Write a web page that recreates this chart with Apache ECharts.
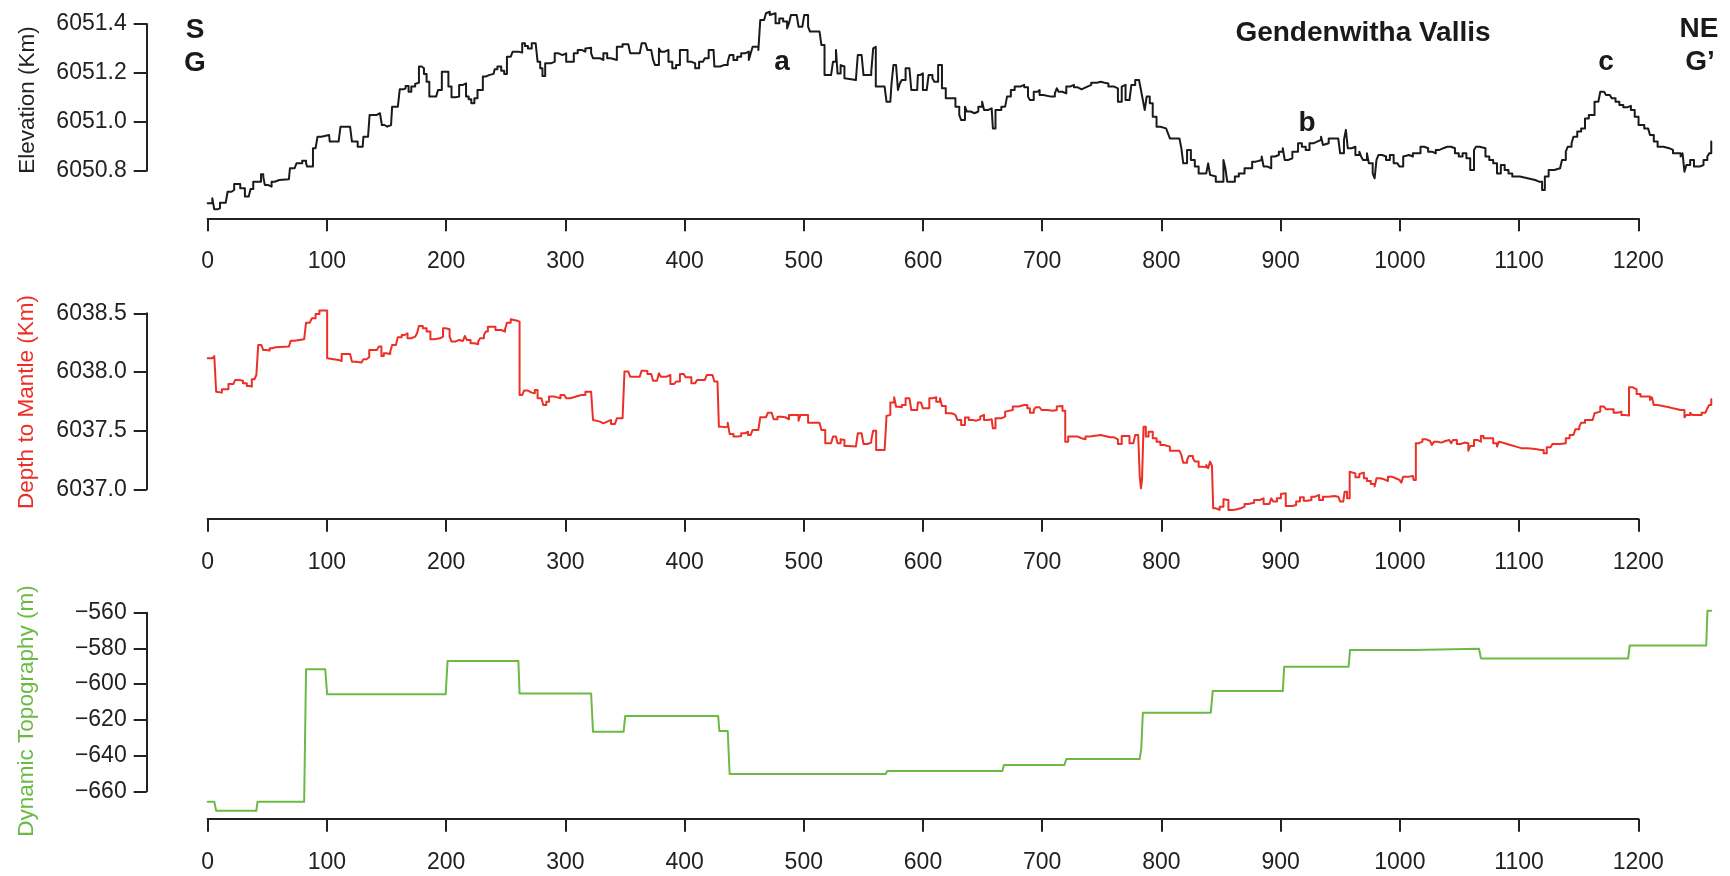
<!DOCTYPE html>
<html>
<head>
<meta charset="utf-8">
<title>Gendenwitha Vallis profile</title>
<script src="https://cdn.jsdelivr.net/npm/echarts@6/dist/echarts.min.js"></script>
<style>
  html, body { margin: 0; padding: 0; background: #ffffff; }
  #chart { width: 1730px; height: 876px; }
</style>
</head>
<body>
<div id="chart"></div>
<script>
// Profile G–G' across Gendenwitha Vallis: distance along profile (km) vs. value

const distanceTicks = [0, 100, 200, 300, 400, 500, 600, 700, 800, 900, 1000, 1100, 1200];
const profileEnd = 1270; // data runs a little past the last labelled tick

// Surface elevation (km)
const elevation = [
  [0,6050.667],[3.9,6050.687],[5.5,6050.642],[8.1,6050.646],[10.3,6050.669],[15.1,6050.674],[16.7,6050.714],
  [20.0,6050.721],[22.2,6050.746],[25.4,6050.746],[27.3,6050.728],[31.2,6050.694],[34.4,6050.687],[36.0,6050.725],
  [38.2,6050.755],[42.4,6050.755],[44.7,6050.785],[46.6,6050.776],[47.9,6050.742],[50.4,6050.735],[53.6,6050.755],
  [56.2,6050.762],[60.1,6050.765],[68.1,6050.765],[69.0,6050.810],[72.9,6050.817],[74.5,6050.830],[79.3,6050.841],
  [82.5,6050.830],[83.5,6050.817],[86.4,6050.817],[88.3,6050.892],[90.5,6050.898],[92.1,6050.939],[95.4,6050.946],
  [101.8,6050.946],[102.4,6050.919],[109.8,6050.919],[111.4,6050.980],[119.4,6050.983],[121.0,6050.919],
  [125.8,6050.898],[130.0,6050.901],[130.6,6050.939],[134.5,6050.946],[135.8,6051.028],[141.9,6051.035],
  [144.5,6051.042],[146.1,6050.987],[148.3,6050.980],[150.6,6050.987],[153.8,6050.987],[154.7,6051.062],
  [159.5,6051.065],[161.1,6051.133],[164.3,6051.137],[166.0,6051.146],[168.5,6051.123],[170.8,6051.144],
  [174.0,6051.155],[175.6,6051.160],[177.2,6051.226],[179.4,6051.219],[181.4,6051.196],[183.6,6051.164],
  [185.9,6051.103],[191.6,6051.103],[193.2,6051.130],[196.4,6051.205],[199.6,6051.205],[201.9,6051.144],
  [204.5,6051.100],[207.7,6051.103],[210.9,6051.151],[214.1,6051.157],[216.7,6051.103],[218.9,6051.092],
  [221.1,6051.076],[223.7,6051.096],[226.3,6051.130],[228.5,6051.130],[230.8,6051.185],[233.3,6051.191],
  [235.9,6051.196],[239.8,6051.196],[240.7,6051.215],[243.0,6051.226],[246.2,6051.209],[248.7,6051.196],
  [251.0,6051.266],[254.2,6051.273],[255.8,6051.287],[260.6,6051.283],[263.8,6051.321],[266.1,6051.310],
  [268.6,6051.300],[271.8,6051.321],[275.1,6051.314],[276.7,6051.246],[278.9,6051.219],[280.8,6051.187],
  [283.1,6051.239],[287.9,6051.246],[291.1,6051.280],[294.3,6051.273],[297.5,6051.280],[300.7,6051.246],
  [303.9,6051.246],[307.1,6051.280],[310.4,6051.294],[313.6,6051.287],[316.8,6051.300],[318.4,6051.303],
  [321.6,6051.280],[323.2,6051.260],[329.0,6051.253],[331.9,6051.280],[335.1,6051.260],[338.3,6051.253],
  [343.2,6051.307],[348.0,6051.317],[352.8,6051.314],[354.4,6051.280],[362.4,6051.280],[364.0,6051.321],
  [367.2,6051.321],[368.8,6051.294],[372.0,6051.287],[373.6,6051.253],[375.2,6051.232],[378.5,6051.300],
  [380.1,6051.287],[383.3,6051.294],[386.5,6051.246],[389.7,6051.219],[392.9,6051.232],[396.1,6051.294],
  [399.3,6051.294],[402.5,6051.246],[405.7,6051.239],[408.9,6051.219],[412.2,6051.246],[415.4,6051.246],
  [417.0,6051.260],[420.2,6051.294],[424.3,6051.294],[425.0,6051.226],[429.8,6051.232],[433.0,6051.232],
  [436.2,6051.246],[437.8,6051.273],[441.0,6051.253],[444.2,6051.266],[447.5,6051.280],[450.7,6051.287],
  [453.9,6051.253],[455.5,6051.280],[457.1,6051.307],[461.9,6051.294],[463.5,6051.416],[466.7,6051.410],
  [468.3,6051.444],[469.9,6051.450],[471.5,6051.437],[473.1,6051.444],[476.3,6051.403],[479.5,6051.423],
  [482.7,6051.410],[486.0,6051.382],[487.6,6051.403],[489.2,6051.437],[494.0,6051.437],[495.6,6051.389],
  [498.8,6051.389],[500.4,6051.437],[502.0,6051.437],[503.6,6051.389],[505.2,6051.369],[513.2,6051.369],
  [514.8,6051.314],[517.4,6051.191],[522.9,6051.198],[524.5,6051.246],[527.0,6051.294],[528.3,6051.198],
  [530.9,6051.232],[532.5,6051.226],[534.1,6051.178],[535.7,6051.171],[543.7,6051.171],[545.3,6051.273],
  [548.5,6051.273],[550.1,6051.191],[553.3,6051.191],[556.6,6051.205],[558.2,6051.300],[559.8,6051.307],
  [560.4,6051.144],[567.8,6051.144],[569.4,6051.082],[572.6,6051.076],[573.6,6051.157],[575.2,6051.232],
  [577.4,6051.232],[579.0,6051.130],[580.6,6051.157],[582.2,6051.171],[585.4,6051.219],[588.6,6051.219],
  [590.2,6051.130],[595.1,6051.130],[595.7,6051.191],[597.6,6051.198],[599.9,6051.130],[603.1,6051.137],
  [604.7,6051.191],[607.9,6051.178],[609.5,6051.164],[612.7,6051.232],[614.3,6051.232],[615.9,6051.137],
  [617.5,6051.137],[619.1,6051.096],[622.3,6051.096],[627.2,6051.062],[630.4,6051.028],[632.0,6051.007],
  [635.2,6051.062],[636.8,6051.042],[640.0,6051.035],[643.2,6051.042],[646.4,6051.062],[649.6,6051.082],
  [651.2,6051.048],[654.4,6051.055],[657.6,6051.048],[658.6,6050.973],[660.8,6051.048],[665.7,6051.062],
  [668.9,6051.069],[670.5,6051.103],[673.7,6051.130],[676.9,6051.144],[681.7,6051.151],[684.9,6051.141],
  [688.1,6051.103],[689.7,6051.089],[692.9,6051.123],[696.1,6051.130],[697.8,6051.110],[701.0,6051.103],
  [707.4,6051.103],[710.6,6051.116],[712.2,6051.137],[713.8,6051.123],[717.0,6051.116],[720.2,6051.144],
  [723.4,6051.151],[726.6,6051.141],[729.8,6051.133],[733.0,6051.137],[734.7,6051.144],[737.9,6051.151],
  [741.1,6051.160],[745.9,6051.164],[749.1,6051.160],[752.3,6051.157],[755.5,6051.144],[760.3,6051.137],
  [763.5,6051.082],[766.7,6051.144],[768.3,6051.151],[769.9,6051.089],[773.2,6051.089],[774.8,6051.151],
  [778.0,6051.171],[781.2,6051.174],[782.8,6051.130],[784.4,6051.089],[786.0,6051.048],[787.6,6051.103],
  [790.2,6051.076],[792.7,6051.021],[795.9,6050.980],[799.1,6050.973],[803.9,6050.980],[805.5,6050.953],
  [807.1,6050.932],[815.1,6050.932],[816.7,6050.892],[818.3,6050.830],[821.5,6050.885],[824.7,6050.844],
  [828.0,6050.817],[831.2,6050.789],[834.4,6050.789],[837.6,6050.783],[839.2,6050.830],[840.8,6050.783],
  [842.4,6050.776],[845.6,6050.755],[848.8,6050.755],[852.0,6050.844],[853.6,6050.810],[855.2,6050.755],
  [858.4,6050.755],[861.6,6050.776],[864.9,6050.789],[869.7,6050.810],[876.1,6050.837],[879.3,6050.844],
  [884.1,6050.858],[885.7,6050.817],[888.9,6050.810],[892.1,6050.858],[895.3,6050.864],[898.5,6050.878],
  [901.8,6050.892],[903.4,6050.844],[906.6,6050.851],[909.8,6050.878],[914.6,6050.912],[917.8,6050.898],
  [921.0,6050.885],[924.2,6050.912],[927.4,6050.919],[930.6,6050.926],[933.9,6050.939],[935.5,6050.905],
  [937.1,6050.912],[940.3,6050.932],[948.3,6050.932],[949.9,6050.871],[953.1,6050.926],[954.7,6050.967],
  [956.3,6050.892],[959.5,6050.898],[962.7,6050.864],[966.0,6050.878],[967.5,6050.858],[969.1,6050.844],
  [972.4,6050.871],[974.0,6050.830],[977.2,6050.789],[978.8,6050.769],[980.4,6050.844],[982.0,6050.864],
  [985.2,6050.858],[988.4,6050.844],[991.6,6050.864],[994.8,6050.830],[998.0,6050.837],[999.6,6050.817],
  [1002.8,6050.858],[1004.4,6050.864],[1007.7,6050.858],[1010.9,6050.871],[1014.1,6050.871],[1017.3,6050.898],
  [1020.5,6050.892],[1023.7,6050.878],[1026.9,6050.871],[1030.1,6050.885],[1033.3,6050.892],[1036.5,6050.898],
  [1039.7,6050.898],[1042.9,6050.892],[1046.2,6050.871],[1049.4,6050.858],[1052.6,6050.871],[1055.8,6050.851],
  [1059.0,6050.803],[1062.2,6050.885],[1063.8,6050.898],[1067.0,6050.892],[1071.8,6050.858],[1075.0,6050.844],
  [1078.3,6050.830],[1081.5,6050.789],[1084.7,6050.823],[1087.9,6050.803],[1091.1,6050.789],[1094.3,6050.776],
  [1100.7,6050.769],[1107.1,6050.762],[1113.5,6050.755],[1116.8,6050.755],[1119.3,6050.721],[1121.6,6050.776],
  [1124.8,6050.803],[1129.6,6050.810],[1134.4,6050.810],[1136.0,6050.844],[1139.2,6050.878],[1140.8,6050.898],
  [1144.0,6050.912],[1145.6,6050.939],[1148.8,6050.960],[1152.1,6050.973],[1155.3,6051.014],[1158.5,6051.028],
  [1163.3,6051.082],[1166.5,6051.089],[1168.1,6051.123],[1171.3,6051.127],[1172.9,6051.110],[1176.1,6051.110],
  [1177.7,6051.096],[1180.9,6051.082],[1184.1,6051.069],[1187.4,6051.059],[1190.6,6051.065],[1193.8,6051.048],
  [1197.0,6051.021],[1200.2,6050.987],[1205.0,6050.973],[1208.2,6050.973],[1209.8,6050.946],[1213.0,6050.919],
  [1216.2,6050.898],[1221.0,6050.892],[1225.9,6050.885],[1229.1,6050.871],[1235.5,6050.858],[1237.1,6050.871],
  [1238.7,6050.796],[1240.3,6050.823],[1243.5,6050.844],[1246.7,6050.817],[1251.5,6050.823],[1254.7,6050.844],
  [1257.9,6050.858],[1259.5,6050.871],[1261.2,6050.919]
];

// Depth to mantle (km)
const mantleDepth = [
  [0,6038.116],[3.9,6038.125],[5.5,6038.136],[7.1,6037.832],[8.7,6037.824],[11.9,6037.852],[15.1,6037.852],
  [17.4,6037.898],[21.6,6037.903],[23.1,6037.932],[26.4,6037.926],[29.6,6037.903],[32.8,6037.881],[35.0,6037.875],
  [37.0,6037.937],[39.2,6037.937],[40.8,6037.974],[42.4,6038.230],[45.0,6038.216],[46.6,6038.187],[48.8,6038.182],
  [52.0,6038.202],[54.3,6038.210],[56.9,6038.216],[68.1,6038.216],[69.7,6038.267],[72.9,6038.264],[74.5,6038.278],
  [80.9,6038.287],[82.5,6038.420],[85.7,6038.420],[87.3,6038.457],[90.5,6038.494],[93.7,6038.523],[97.9,6038.523],
  [100.2,6038.116],[101.8,6038.102],[109.8,6038.094],[112.4,6038.153],[119.4,6038.153],[121.0,6038.088],
  [124.2,6038.080],[129.0,6038.074],[130.6,6038.108],[133.2,6038.125],[135.5,6038.187],[141.9,6038.202],
  [143.5,6038.216],[145.7,6038.136],[147.7,6038.159],[149.9,6038.153],[153.1,6038.173],[154.7,6038.230],
  [157.9,6038.230],[159.5,6038.295],[162.7,6038.315],[165.3,6038.330],[167.6,6038.287],[170.8,6038.301],
  [174.0,6038.315],[175.6,6038.330],[177.2,6038.392],[180.4,6038.372],[183.6,6038.344],[186.8,6038.278],
  [190.0,6038.267],[191.6,6038.287],[194.8,6038.301],[197.4,6038.372],[199.6,6038.364],[202.9,6038.301],
  [204.5,6038.259],[207.7,6038.273],[210.9,6038.264],[214.1,6038.273],[215.7,6038.307],[217.3,6038.273],
  [220.5,6038.244],[223.7,6038.236],[226.9,6038.259],[228.5,6038.287],[231.7,6038.315],[233.3,6038.344],
  [235.0,6038.386],[238.2,6038.386],[241.4,6038.358],[246.2,6038.344],[249.4,6038.364],[251.0,6038.420],
  [254.2,6038.449],[255.8,6038.437],[259.6,6038.429],[261.6,6037.804],[263.8,6037.810],[265.4,6037.841],
  [268.6,6037.824],[271.8,6037.818],[274.4,6037.847],[276.7,6037.776],[279.9,6037.767],[281.5,6037.719],
  [284.0,6037.747],[286.3,6037.790],[291.1,6037.776],[295.9,6037.804],[299.1,6037.804],[300.7,6037.776],
  [303.9,6037.784],[307.1,6037.795],[310.4,6037.804],[313.6,6037.804],[316.8,6037.832],[321.6,6037.832],
  [323.2,6037.591],[324.8,6037.577],[329.0,6037.562],[331.9,6037.577],[335.1,6037.577],[336.7,6037.591],
  [338.3,6037.557],[341.6,6037.548],[343.2,6037.605],[348.0,6037.605],[349.6,6038.003],[352.8,6038.000],
  [354.4,6037.960],[362.4,6037.960],[364.0,6038.011],[366.6,6038.009],[368.8,6037.983],[372.0,6037.974],
  [373.6,6037.926],[376.9,6037.918],[378.5,6037.989],[380.1,6037.960],[384.9,6037.974],[388.1,6037.898],
  [391.3,6037.903],[392.9,6037.918],[396.1,6037.983],[399.3,6037.974],[400.9,6037.955],[402.5,6037.955],
  [405.7,6037.903],[408.9,6037.903],[410.5,6037.932],[413.8,6037.932],[417.0,6037.937],[418.6,6037.974],
  [423.4,6037.983],[425.0,6037.918],[427.6,6037.918],[428.8,6037.534],[431.4,6037.528],[434.0,6037.534],
  [436.2,6037.568],[437.8,6037.472],[441.0,6037.449],[444.2,6037.455],[447.5,6037.477],[450.7,6037.491],
  [453.2,6037.463],[455.5,6037.472],[457.1,6037.506],[461.9,6037.500],[463.5,6037.614],[468.3,6037.614],
  [469.9,6037.653],[473.1,6037.648],[474.7,6037.597],[477.9,6037.619],[481.1,6037.614],[484.4,6037.597],
  [487.6,6037.634],[492.4,6037.634],[495.6,6037.585],[497.2,6037.634],[500.4,6037.634],[503.6,6037.568],
  [513.2,6037.568],[514.8,6037.506],[518.0,6037.392],[522.9,6037.398],[524.5,6037.449],[527.0,6037.463],
  [528.3,6037.392],[530.9,6037.426],[532.5,6037.420],[534.1,6037.369],[537.3,6037.364],[543.7,6037.364],
  [545.3,6037.477],[548.5,6037.477],[550.1,6037.386],[553.3,6037.398],[556.6,6037.420],[558.2,6037.500],
  [559.8,6037.500],[560.7,6037.335],[567.8,6037.335],[569.4,6037.625],[571.0,6037.634],[572.6,6037.739],
  [575.8,6037.784],[577.4,6037.704],[579.7,6037.699],[582.2,6037.719],[585.4,6037.776],[588.6,6037.770],
  [590.2,6037.676],[595.1,6037.676],[595.7,6037.739],[598.3,6037.747],[599.9,6037.690],[603.1,6037.690],
  [605.3,6037.776],[607.9,6037.784],[611.1,6037.747],[614.3,6037.776],[615.9,6037.710],[619.1,6037.648],
  [624.0,6037.634],[627.2,6037.619],[628.8,6037.591],[632.0,6037.548],[635.2,6037.611],[638.4,6037.591],
  [641.6,6037.585],[644.8,6037.597],[648.0,6037.619],[649.6,6037.634],[651.2,6037.591],[654.4,6037.597],
  [657.6,6037.591],[658.6,6037.520],[660.8,6037.605],[665.7,6037.619],[668.9,6037.662],[670.5,6037.676],
  [675.3,6037.705],[680.1,6037.719],[684.9,6037.719],[687.5,6037.690],[689.7,6037.653],[692.9,6037.676],
  [694.5,6037.699],[697.8,6037.699],[699.4,6037.676],[704.2,6037.670],[709.0,6037.676],[712.2,6037.705],
  [713.8,6037.710],[717.0,6037.670],[719.3,6037.406],[721.8,6037.449],[725.0,6037.449],[729.8,6037.435],
  [733.0,6037.426],[736.3,6037.449],[739.5,6037.455],[742.7,6037.463],[749.1,6037.455],[752.3,6037.443],
  [757.1,6037.443],[760.3,6037.426],[763.5,6037.386],[766.7,6037.455],[769.9,6037.455],[773.2,6037.392],
  [776.4,6037.392],[778.0,6037.463],[780.5,6037.477],[781.8,6037.108],[782.8,6037.008],[783.7,6037.080],
  [785.0,6037.534],[786.9,6037.449],[789.2,6037.491],[792.7,6037.435],[795.9,6037.406],[799.1,6037.378],
  [802.3,6037.386],[803.9,6037.364],[807.1,6037.329],[815.1,6037.329],[816.7,6037.293],[818.3,6037.227],
  [821.5,6037.250],[823.1,6037.284],[826.4,6037.264],[828.0,6037.236],[831.2,6037.193],[834.4,6037.199],
  [836.0,6037.187],[837.6,6037.207],[839.2,6037.179],[840.8,6037.236],[842.4,6037.199],[843.4,6036.838],
  [845.6,6036.824],[848.8,6036.852],[852.0,6036.915],[853.6,6036.909],[856.2,6036.824],[860.0,6036.830],
  [863.3,6036.838],[866.5,6036.852],[869.7,6036.875],[872.9,6036.886],[877.7,6036.909],[882.5,6036.909],
  [884.1,6036.923],[885.7,6036.875],[890.5,6036.875],[892.1,6036.923],[893.7,6036.895],[896.9,6036.923],
  [900.2,6036.960],[901.8,6036.966],[904.3,6036.858],[909.8,6036.866],[913.0,6036.895],[916.2,6036.932],
  [919.4,6036.903],[922.6,6036.909],[925.8,6036.937],[929.0,6036.946],[930.6,6036.952],[932.3,6036.909],
  [935.5,6036.937],[940.3,6036.943],[945.1,6036.937],[948.3,6036.923],[949.9,6036.895],[952.5,6036.895],
  [953.7,6036.980],[955.7,6036.923],[957.9,6037.150],[959.5,6037.136],[962.7,6037.102],[966.0,6037.131],
  [967.5,6037.142],[969.8,6037.094],[972.4,6037.071],[975.6,6037.045],[978.8,6037.023],[980.4,6037.094],
  [983.6,6037.085],[986.8,6037.071],[990.0,6037.108],[993.2,6037.094],[996.4,6037.080],[999.6,6037.080],
  [1001.2,6037.057],[1002.8,6037.108],[1007.7,6037.114],[1010.9,6037.108],[1011.5,6037.080],[1013.4,6037.392],
  [1015.7,6037.406],[1018.9,6037.426],[1022.1,6037.412],[1025.3,6037.406],[1026.9,6037.378],[1028.5,6037.406],
  [1031.7,6037.398],[1034.9,6037.412],[1038.1,6037.420],[1041.4,6037.426],[1043.0,6037.392],[1044.6,6037.420],
  [1047.8,6037.386],[1051.0,6037.398],[1054.2,6037.406],[1055.8,6037.392],[1057.4,6037.329],[1059.0,6037.369],
  [1062.2,6037.420],[1065.4,6037.406],[1068.0,6037.455],[1070.2,6037.435],[1075.0,6037.435],[1078.3,6037.392],
  [1081.5,6037.364],[1083.1,6037.406],[1084.7,6037.392],[1087.9,6037.378],[1092.7,6037.364],[1097.5,6037.349],
  [1102.3,6037.349],[1107.1,6037.344],[1113.5,6037.335],[1118.4,6037.335],[1120.6,6037.307],[1123.2,6037.358],
  [1126.4,6037.364],[1128.0,6037.386],[1134.4,6037.386],[1136.0,6037.392],[1139.2,6037.435],[1142.4,6037.463],
  [1145.6,6037.472],[1147.2,6037.511],[1150.5,6037.534],[1152.1,6037.568],[1155.3,6037.591],[1161.7,6037.591],
  [1163.3,6037.648],[1164.9,6037.662],[1168.1,6037.705],[1171.3,6037.705],[1172.9,6037.682],[1176.1,6037.682],
  [1179.3,6037.653],[1182.5,6037.662],[1185.8,6037.634],[1189.0,6037.642],[1190.6,6037.628],[1192.2,6037.869],
  [1195.4,6037.852],[1198.6,6037.812],[1201.8,6037.790],[1206.6,6037.790],[1209.8,6037.761],[1211.4,6037.784],
  [1213.0,6037.719],[1216.2,6037.705],[1222.6,6037.699],[1225.9,6037.690],[1229.1,6037.676],[1235.5,6037.670],
  [1237.1,6037.676],[1238.7,6037.614],[1240.3,6037.634],[1243.5,6037.653],[1245.1,6037.634],[1249.9,6037.634],
  [1253.1,6037.653],[1256.3,6037.662],[1257.9,6037.690],[1259.5,6037.719],[1261.2,6037.767]
];

// Dynamic topography (m)
const dynamicTopography = [
  [0,-665.8],[5.5,-665.8],[7.1,-670.9],[40.8,-670.9],[41.8,-665.8],[80.9,-665.8],[82.5,-591.7],[98.6,-591.7],
  [100.2,-605.7],[199.6,-605.7],[201.2,-587.1],[260.6,-587.1],[261.6,-605.2],[321.6,-605.2],[323.2,-626.6],
  [348.9,-626.6],[350.2,-617.9],[428.2,-617.9],[429.2,-626.3],[436.2,-626.3],[437.8,-650.3],[568.7,-650.3],
  [570.0,-648.6],[666.6,-648.6],[667.9,-645.3],[718.6,-645.3],[720.2,-641.9],[781.8,-641.9],[783.1,-636.0],
  [784.4,-616.0],[841.4,-616.0],[843.0,-603.9],[901.8,-603.9],[903.0,-590.2],[957.0,-590.2],[958.2,-580.9],
  [1011.8,-580.9],[1012.8,-580.2],[1066.4,-580.2],[1068.0,-585.6],[1191.5,-585.6],[1192.8,-578.3],
  [1257.0,-578.3],[1258.0,-558.9],[1261.2,-558.9]
];

const elevationTicks = [6050.8, 6051.0, 6051.2, 6051.4];
const mantleTicks = [6037.0, 6037.5, 6038.0, 6038.5];
const dynamicTicks = [-660, -640, -620, -600, -580, -560];

const INK = '#222222';
const LINE_BLACK = '#1a1a1a';
const RED = '#ec2f27';
const GREEN = '#6cba45';
const FONT = '"Liberation Sans", Arial, Helvetica, sans-serif';

// Panel frames: the axes span only the labelled ticks (0–1200 km and the y tick range)
const AX_LEFT = 207.7, AX_RIGHT = 91.7;
const axisWidth = 1730 - AX_LEFT - AX_RIGHT;
const pxPerKm = axisWidth / distanceTicks[distanceTicks.length - 1];
const DATA_RIGHT = 1730 - AX_LEFT - pxPerKm * profileEnd;

const panels = [
  { top: 24, bottom: 705.3, xOffset: 47.6 },
  { top: 313.3, bottom: 386.7, xOffset: 29.4 },
  { top: 612.7, bottom: 84.7, xOffset: 27.4 }
];

// grids 0–2 carry the visible axes, grids 3–5 carry the curves on the same scale
const grids = panels.map(p => ({ left: AX_LEFT, right: AX_RIGHT, top: p.top, bottom: p.bottom }))
  .concat(panels.map(p => ({ left: AX_LEFT, right: DATA_RIGHT, top: p.top, bottom: p.bottom })));

function shownX(i) {
  return {
    type: 'value', gridIndex: i,
    min: distanceTicks[0], max: distanceTicks[distanceTicks.length - 1],
    interval: distanceTicks[1] - distanceTicks[0],
    offset: panels[i].xOffset,
    axisLine: { show: true, onZero: false, lineStyle: { color: INK, width: 2 } },
    axisTick: { show: true, length: 13, lineStyle: { color: INK, width: 2 } },
    axisLabel: { color: INK, fontSize: 23, fontFamily: FONT, margin: 32, formatter: v => String(v) },
    splitLine: { show: false }
  };
}

function hiddenX(i) {
  return { type: 'value', gridIndex: i, min: 0, max: profileEnd, show: false, splitLine: { show: false } };
}

function shownY(i, ticks, fmt) {
  return {
    type: 'value', gridIndex: i,
    min: ticks[0], max: ticks[ticks.length - 1],
    interval: ticks[1] - ticks[0],
    offset: 61,
    axisLine: { show: true, onZero: false, lineStyle: { color: INK, width: 2 } },
    axisTick: { show: true, length: 13, lineStyle: { color: INK, width: 2 } },
    axisLabel: { color: INK, fontSize: 23, fontFamily: FONT, margin: 20, formatter: fmt },
    splitLine: { show: false }
  };
}

function hiddenY(i, ticks) {
  return { type: 'value', gridIndex: i, min: ticks[0], max: ticks[ticks.length - 1], show: false, splitLine: { show: false } };
}

function lineSeries(i, data, color) {
  return {
    type: 'line', xAxisIndex: i, yAxisIndex: i,
    data: data, showSymbol: false, symbol: 'none', clip: false, step: 'end',
    lineStyle: { color: color, width: 2, join: 'round', cap: 'round' },
    silent: true
  };
}

function label(text, x, y, size) {
  return {
    type: 'text', x: x, y: y, silent: true,
    style: {
      text: text, fill: '#1a1a1a', align: 'center', verticalAlign: 'middle',
      font: 'bold ' + (size || 28) + 'px ' + FONT
    }
  };
}

function axisTitle(text, x, y, color) {
  return {
    type: 'text', x: x, y: y, rotation: Math.PI / 2, silent: true,
    style: {
      text: text, fill: color, align: 'center', verticalAlign: 'middle',
      font: '22.5px ' + FONT
    }
  };
}

const fixed1 = v => v.toFixed(1);
const minusSign = v => (v < 0 ? '\u2212' + Math.abs(v) : String(v));

const chart = echarts.init(document.getElementById('chart'), null, { renderer: 'canvas' });
chart.setOption({
  animation: false,
  backgroundColor: '#ffffff',
  grid: grids,
  xAxis: [shownX(0), shownX(1), shownX(2), hiddenX(3), hiddenX(4), hiddenX(5)],
  yAxis: [
    shownY(0, elevationTicks, fixed1),
    shownY(1, mantleTicks, fixed1),
    shownY(2, dynamicTicks, minusSign),
    hiddenY(3, elevationTicks),
    hiddenY(4, mantleTicks),
    hiddenY(5, dynamicTicks)
  ],
  series: [
    lineSeries(3, elevation, LINE_BLACK),
    lineSeries(4, mantleDepth, RED),
    lineSeries(5, dynamicTopography, GREEN)
  ],
  graphic: [
    axisTitle('Elevation (Km)', 27.5, 100, INK),
    axisTitle('Depth to Mantle (Km)', 27, 402, RED),
    axisTitle('Dynamic Topography (m)', 27, 711, GREEN),
    label('S', 195, 30),
    label('G', 195, 63),
    label('a', 782, 62),
    label('b', 1307, 123),
    label('c', 1606, 62),
    label('NE', 1699, 29),
    label('G\u2019', 1700, 62),
    label('Gendenwitha Vallis', 1363, 33)
  ]
});
</script>
</body>
</html>
